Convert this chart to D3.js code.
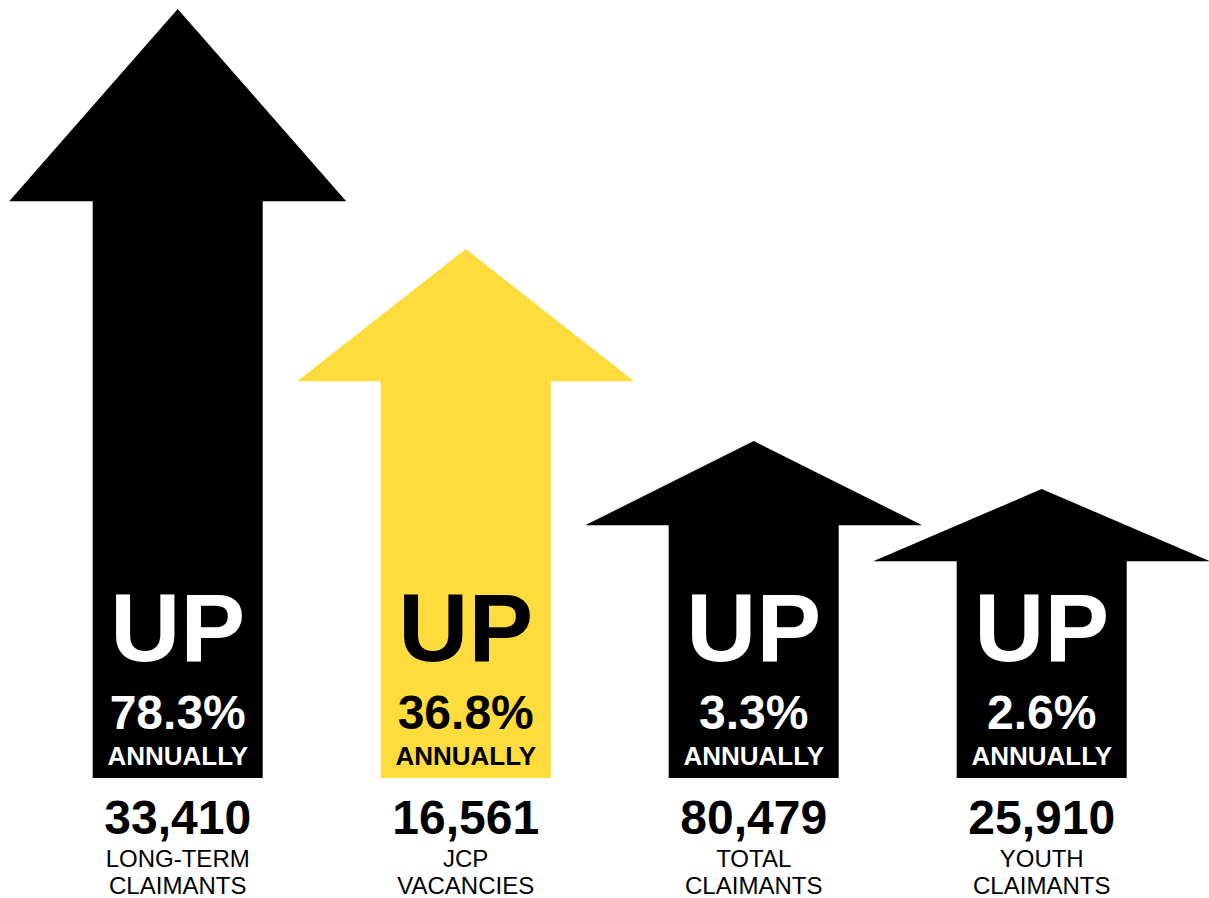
<!DOCTYPE html>
<html>
<head>
<meta charset="utf-8">
<script src="https://cdn.jsdelivr.net/npm/d3@7"></script>
<style>
  html, body { margin: 0; padding: 0; background: #ffffff; }
  svg { display: block; }
  text { font-family: "Liberation Sans", Arial, Helvetica, sans-serif; }
</style>
</head>
<body>
<div id="chart"></div>
<script>
// ---- data ----
const categories = ["LONG-TERM CLAIMANTS", "JCP VACANCIES", "TOTAL CLAIMANTS", "YOUTH CLAIMANTS"];
const labelLines = [["LONG-TERM", "CLAIMANTS"], ["JCP", "VACANCIES"], ["TOTAL", "CLAIMANTS"], ["YOUTH", "CLAIMANTS"]];
const totals = [33410, 16561, 80479, 25910];
const annualChange = [78.3, 36.8, 3.3, 2.6];   // % change, annually
const direction = ["UP", "UP", "UP", "UP"];
const highlighted = ["JCP VACANCIES"];

// ---- layout ----
const W = 1209, H = 898;
const baseY = 778;          // bottom of the arrow shafts
const shaftW = 170;
const headW = 337;
const headFrac = 0.25;      // share of the arrow length taken by the head

const svg = d3.select("#chart").append("svg")
  .attr("width", W).attr("height", H);

const data = categories.map((c, i) => ({
  cat: c, lines: labelLines[i], total: totals[i], pct: annualChange[i], dir: direction[i]
}));

const x = d3.scaleBand().domain(categories).range([33.7, 1185.7]).padding(0);

// arrow length scale (piecewise: designer-style emphasis)
const len = d3.scaleLinear()
  .domain(d3.sort(annualChange))
  .range([289, 337, 529, 769]);

const fill = d => highlighted.includes(d.cat) ? "#FEDC3D" : "#000000";
const ink = d => highlighted.includes(d.cat) ? "#000000" : "#ffffff";

const g = svg.selectAll("g.arrow").data(data).join("g")
  .attr("class", "arrow")
  .attr("transform", d => `translate(${x(d.cat) + x.bandwidth() / 2},0)`);

g.append("path")
  .attr("d", d => {
    const L = len(d.pct);
    const top = baseY - L;
    const headBase = top + L * headFrac;
    const p = d3.path();
    p.moveTo(-shaftW / 2, baseY);
    p.lineTo(-shaftW / 2, headBase);
    p.lineTo(-headW / 2, headBase);
    p.lineTo(0, top);
    p.lineTo(headW / 2, headBase);
    p.lineTo(shaftW / 2, headBase);
    p.lineTo(shaftW / 2, baseY);
    p.closePath();
    return p.toString();
  })
  .attr("fill", fill);

g.append("text")
  .attr("y", 661)
  .attr("text-anchor", "middle")
  .attr("font-size", 97).attr("font-weight", "bold")
  .attr("fill", ink)
  .text(d => d.dir);

g.append("text")
  .attr("y", 729)
  .attr("text-anchor", "middle")
  .attr("font-size", 48).attr("font-weight", "bold")
  .attr("fill", ink)
  .text(d => d3.format(".1f")(d.pct) + "%");

g.append("text")
  .attr("y", 765)
  .attr("text-anchor", "middle")
  .attr("font-size", 26).attr("font-weight", "bold")
  .attr("fill", ink)
  .text("ANNUALLY");

g.append("text")
  .attr("y", 834)
  .attr("text-anchor", "middle")
  .attr("font-size", 48).attr("font-weight", "bold")
  .attr("fill", "#000")
  .text(d => d3.format(",")(d.total));

g.each(function (d) {
  d3.select(this).selectAll("text.lbl").data(d.lines).join("text")
    .attr("class", "lbl")
    .attr("y", (s, i) => 867 + i * 27)
    .attr("text-anchor", "middle")
    .attr("font-size", 24)
    .attr("fill", "#000")
    .text(s => s);
});
</script>
</body>
</html>
